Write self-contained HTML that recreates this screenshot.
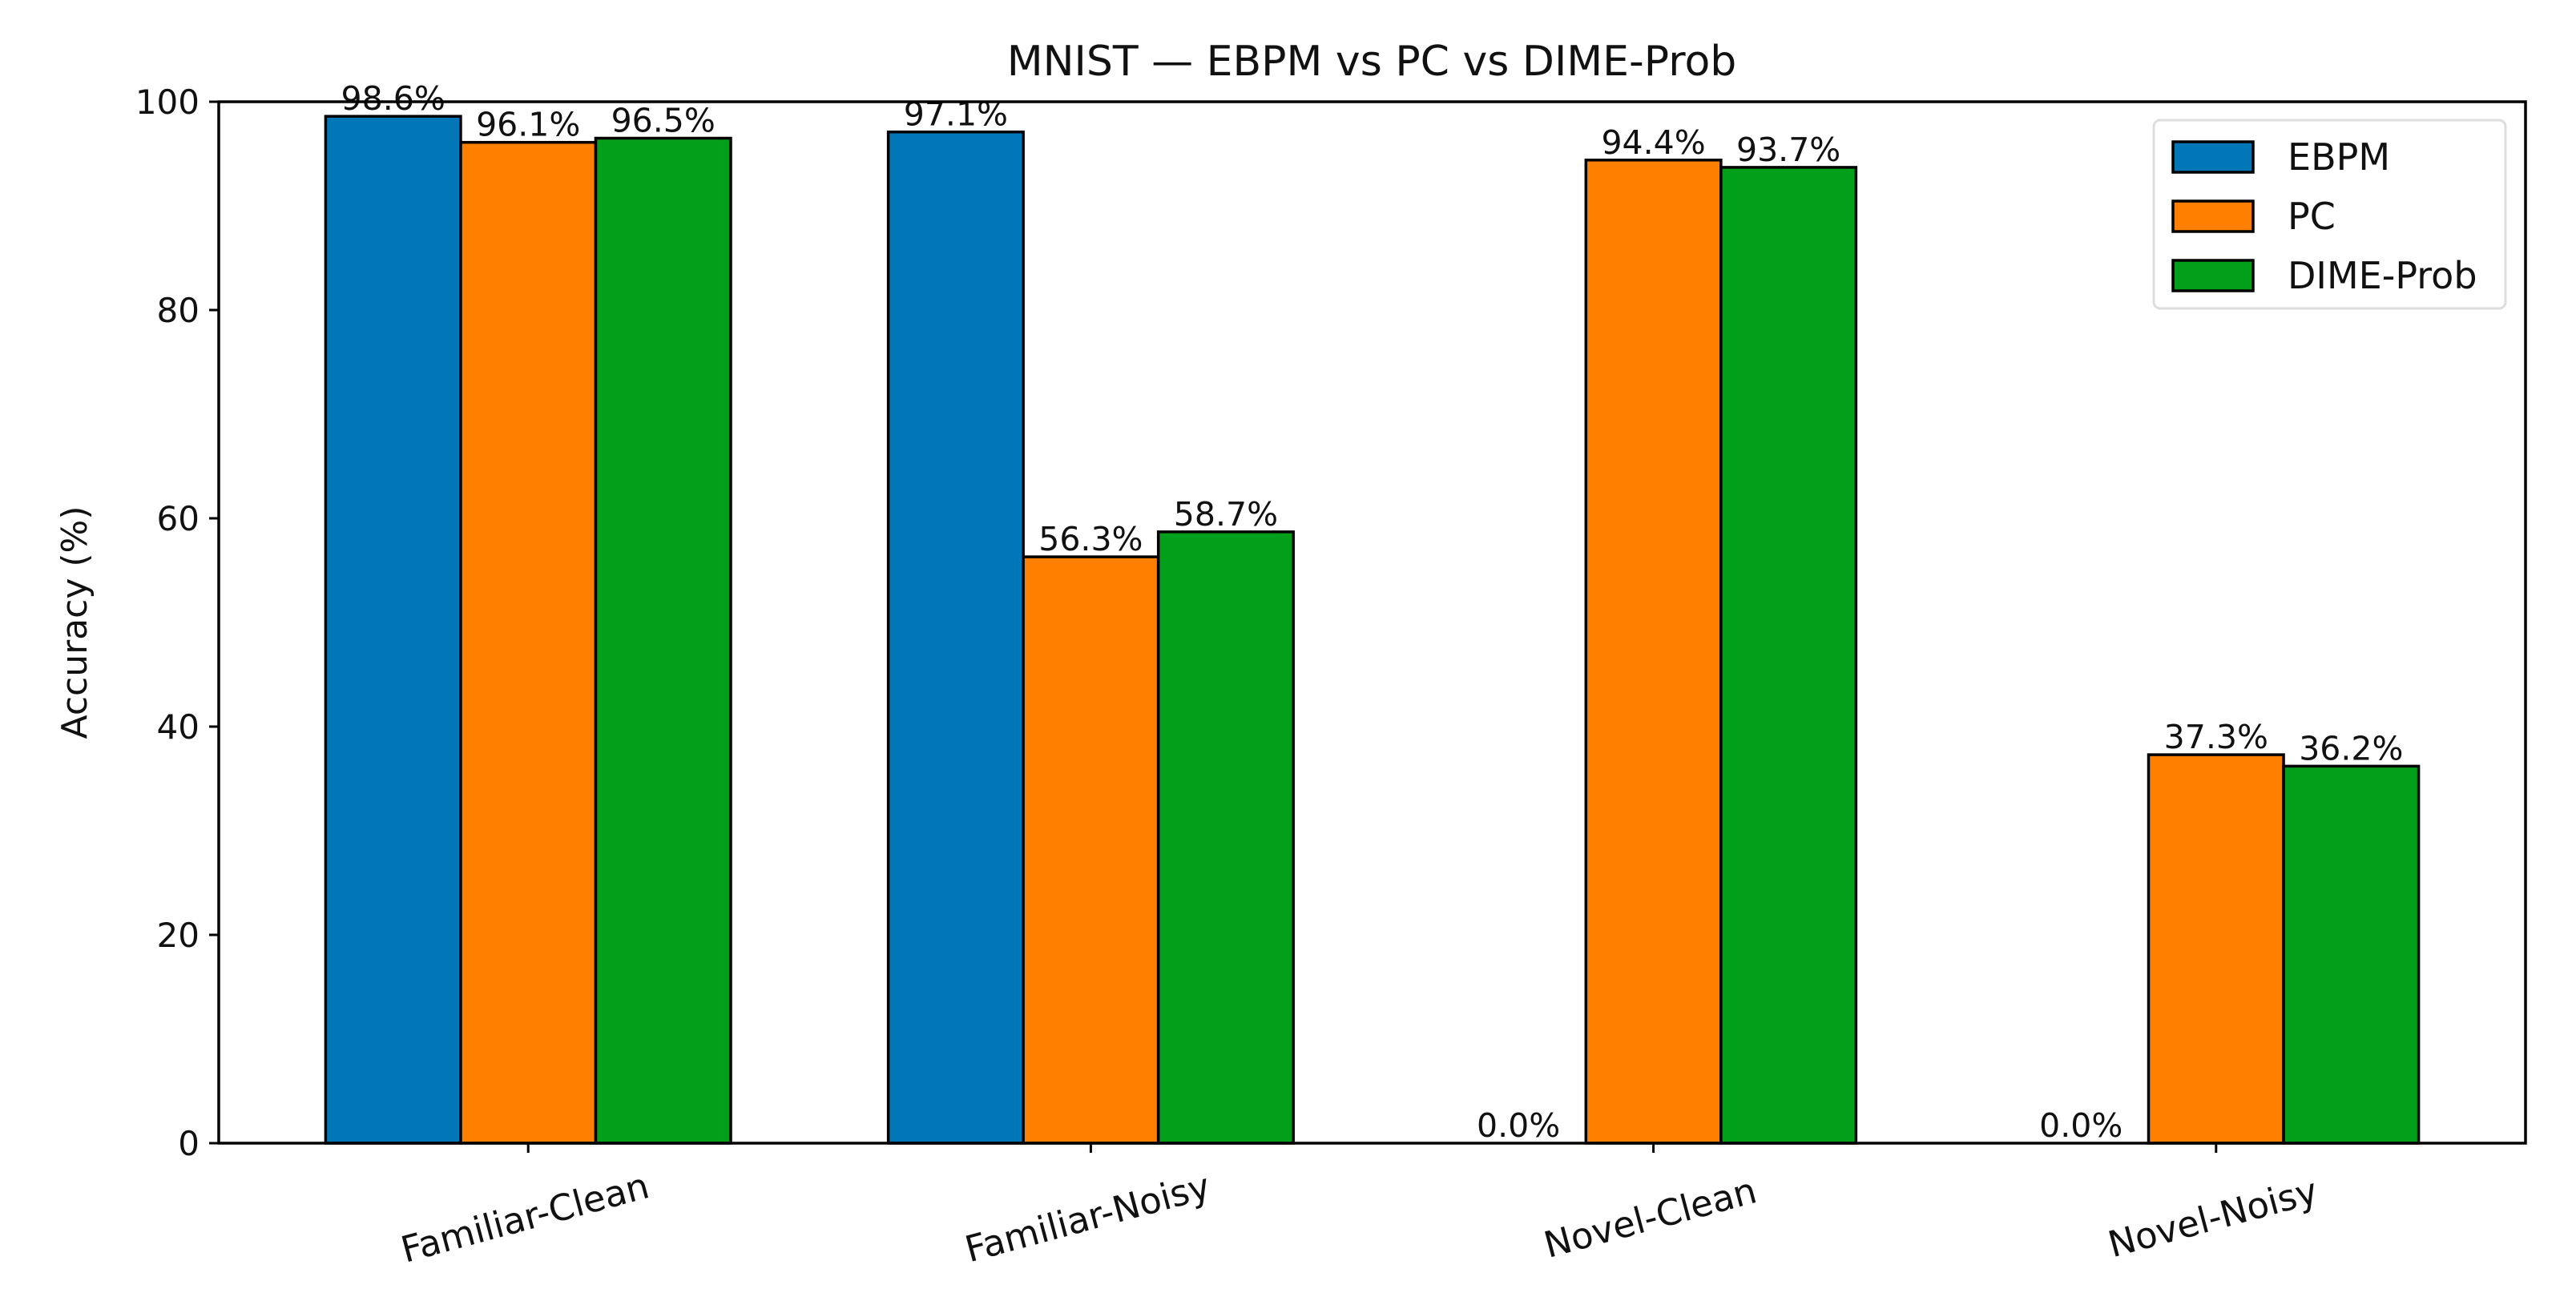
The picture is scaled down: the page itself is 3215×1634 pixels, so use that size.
<!DOCTYPE html>
<html><head><meta charset="utf-8"><style>
html,body{margin:0;padding:0;background:#fff;}
svg{display:block;font-family:"DejaVu Sans","Liberation Sans",sans-serif;}
</style></head><body>
<svg id="chart" width="3215" height="1634" viewBox="0 0 3215 1634" xmlns="http://www.w3.org/2000/svg">
<rect width="3215" height="1634" fill="#fff"/>
<text x="1712" y="94" font-size="52" text-anchor="middle" fill="#111">MNIST — EBPM vs PC vs DIME-Prob</text>
<text transform="translate(108,777) rotate(-90)" font-size="44" text-anchor="middle" fill="#111">Accuracy (%)</text>
<g id="bars"></g>
<g id="axes"></g>
<g id="legend">
<rect x="2688" y="150" width="439" height="235" rx="8" fill="#fff" stroke="#ddd" stroke-width="3"/>
</g>
</svg>
<script>
const categories = ["Familiar-Clean","Familiar-Noisy","Novel-Clean","Novel-Noisy"];
const seriesNames = ["EBPM","PC","DIME-Prob"];
const ebpm = [98.6, 97.1, 0.0, 0.0];
const pc = [96.1, 56.3, 94.4, 37.3];
const dime = [96.5, 58.7, 93.7, 36.2];
const yTicks = [0,20,40,60,80,100];

const NS="http://www.w3.org/2000/svg";
const L=273,R=3152,T=127,B=1427;
const xMin=-0.55,xMax=3.55,yMin=0,yMax=100;
const xs=v=>L+(v-xMin)/(xMax-xMin)*(R-L);
const ys=v=>B-(v-yMin)/(yMax-yMin)*(B-T);
const colors=["#0277b8","#ff8000","#02a01a"];
const series=[ebpm,pc,dime];
const bw=0.24;
function mk(tag,attrs,parent){const e=document.createElementNS(NS,tag);for(const k in attrs)e.setAttribute(k,attrs[k]);parent.appendChild(e);return e;}
const gb=document.getElementById('bars');
series.forEach((s,si)=>{
  s.forEach((v,ci)=>{
    const cx=ci+(si-1)*bw;
    const x0=xs(cx-bw/2),x1=xs(cx+bw/2);
    const r=mk('rect',{x:x0,y:ys(v),width:x1-x0,height:ys(0)-ys(v),fill:colors[si],stroke:"#000","stroke-width":3.5},gb);
    
    
    const t=mk('text',{x:xs(cx),y:ys(v)-8,"font-size":41,"text-anchor":"middle",fill:"#111"},gb);
    t.textContent=v.toFixed(1)+"%";
    
    
  });
});
const ga=document.getElementById('axes');
const frame=mk('rect',{x:L,y:T,width:R-L,height:B-T,fill:"none",stroke:"#000","stroke-width":3.5},ga);


yTicks.forEach(v=>{
  mk('line',{x1:L-12,x2:L,y1:ys(v),y2:ys(v),stroke:"#000","stroke-width":3},ga);
  const t=mk('text',{x:L-24,y:ys(v)+15,"font-size":42,"text-anchor":"end",fill:"#111"},ga);
  t.textContent=v;
  
  
});
categories.forEach((c,i)=>{
  mk('line',{x1:xs(i),x2:xs(i),y1:B,y2:B+12,stroke:"#000","stroke-width":3},ga);
  const t=mk('text',{transform:`translate(${xs(i)},${B+108}) rotate(-15)`,"font-size":45,"text-anchor":"middle",fill:"#111"},ga);
  t.textContent=c;
  
  
});
const gl=document.getElementById('legend');
seriesNames.forEach((n,i)=>{
  const y=177+i*74;
  const p=mk('rect',{x:2712,y:y,width:100,height:38,fill:colors[i],stroke:"#000","stroke-width":3.5},gl);
  
  
  const t=mk('text',{x:2855,y:y+35,"font-size":46,fill:"#111"},gl);
  t.textContent=n;
  
  
});
</script>
</body></html>
